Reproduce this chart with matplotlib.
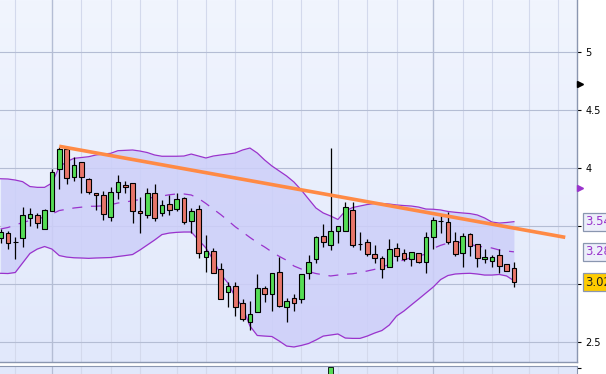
import numpy as np
import matplotlib.pyplot as plt

# daily candles
opens = [3.399, 3.440, 3.365, 3.397, 3.569, 3.600, 3.479, 3.635, 3.991, 4.164,
         3.922, 4.052, 3.905, 3.784, 3.767, 3.578, 3.798, 3.853, 3.871, 3.632,
         3.595, 3.784, 3.612, 3.690, 3.647, 3.741, 3.543, 3.647, 3.238, 3.287,
         3.135, 2.931, 2.985, 2.836, 2.678, 2.759, 2.966, 2.914, 3.103, 2.807,
         2.879, 2.871, 3.095, 3.218, 3.416, 3.336, 3.457, 3.457, 3.643, 3.345,
         3.362, 3.264, 3.224, 3.147, 3.310, 3.267, 3.216, 3.267, 3.190, 3.405,
         3.548, 3.534, 3.374, 3.267, 3.434, 3.345, 3.216, 3.198, 3.250, 3.179,
         3.138]
highs = [3.477, 3.459, 3.405, 3.664, 3.655, 3.612, 3.652, 3.991, 4.186, 4.181,
         4.095, 4.054, 3.914, 3.787, 3.802, 3.841, 3.942, 3.891, 3.873, 3.750,
         3.828, 3.865, 3.727, 3.767, 3.790, 3.750, 3.655, 3.684, 3.425, 3.310,
         3.181, 3.022, 3.022, 2.871, 2.859, 3.089, 2.985, 3.097, 3.233, 2.879,
         2.916, 3.089, 3.253, 3.416, 3.520, 4.172, 3.500, 3.710, 3.710, 3.448,
         3.388, 3.339, 3.244, 3.391, 3.353, 3.302, 3.276, 3.272, 3.448, 3.578,
         3.595, 3.626, 3.453, 3.440, 3.445, 3.345, 3.302, 3.253, 3.302, 3.179,
         3.195]
lows = [3.356, 3.302, 3.216, 3.319, 3.503, 3.483, 3.479, 3.632, 3.824, 3.865,
        3.893, 3.784, 3.776, 3.640, 3.552, 3.546, 3.735, 3.784, 3.531, 3.445,
        3.569, 3.548, 3.589, 3.600, 3.632, 3.517, 3.445, 3.224, 3.109, 3.095,
        2.871, 2.807, 2.727, 2.686, 2.606, 2.759, 2.850, 2.772, 2.802, 2.678,
        2.772, 2.842, 3.043, 3.187, 3.324, 3.296, 3.353, 3.457, 3.324, 3.296,
        3.247, 3.187, 3.052, 3.147, 3.204, 3.204, 3.155, 3.181, 3.095, 3.304,
        3.440, 3.347, 3.247, 3.147, 3.247, 3.147, 3.187, 3.152, 3.095, 3.115,
        2.979]
closes = [3.451, 3.353, 3.365, 3.595, 3.603, 3.526, 3.638, 3.966, 4.166, 3.914,
          4.026, 3.922, 3.793, 3.767, 3.603, 3.793, 3.885, 3.836, 3.629, 3.612,
          3.784, 3.569, 3.681, 3.638, 3.733, 3.537, 3.629, 3.272, 3.287, 3.100,
          2.871, 2.985, 2.807, 2.698, 2.744, 2.966, 2.914, 3.095, 2.816, 2.859,
          2.842, 3.089, 3.195, 3.410, 3.365, 3.457, 3.500, 3.664, 3.336, 3.345,
          3.264, 3.224, 3.135, 3.302, 3.247, 3.221, 3.276, 3.195, 3.405, 3.552,
          3.548, 3.362, 3.259, 3.414, 3.330, 3.224, 3.238, 3.238, 3.158, 3.115,
          3.020]

# bollinger bands
bb_upper = [3.910, 3.908, 3.899, 3.885, 3.843, 3.836, 3.836, 3.873, 4.011, 4.057,
            4.086, 4.093, 4.100, 4.115, 4.123, 4.129, 4.152, 4.155, 4.158, 4.149,
            4.136, 4.115, 4.104, 4.104, 4.104, 4.106, 4.123, 4.106, 4.089, 4.106,
            4.115, 4.123, 4.132, 4.158, 4.175, 4.132, 4.072, 4.020, 3.977, 3.934,
            3.882, 3.813, 3.735, 3.658, 3.615, 3.589, 3.559, 3.632, 3.662, 3.675,
            3.688, 3.697, 3.697, 3.692, 3.684, 3.679, 3.675, 3.666, 3.649, 3.647,
            3.641, 3.628, 3.621, 3.615, 3.610, 3.598, 3.572, 3.537, 3.528, 3.533,
            3.540]
bb_mid = [3.477, 3.490, 3.511, 3.533, 3.550, 3.566, 3.578, 3.606, 3.636, 3.647,
          3.658, 3.665, 3.673, 3.673, 3.677, 3.686, 3.701, 3.710, 3.720, 3.731,
          3.741, 3.751, 3.761, 3.772, 3.779, 3.779, 3.770, 3.740, 3.697, 3.649,
          3.602, 3.550, 3.496, 3.451, 3.404, 3.360, 3.322, 3.279, 3.241, 3.207,
          3.158, 3.132, 3.110, 3.093, 3.082, 3.072, 3.080, 3.087, 3.091, 3.102,
          3.115, 3.129, 3.149, 3.171, 3.192, 3.210, 3.231, 3.244, 3.261, 3.310,
          3.336, 3.356, 3.362, 3.362, 3.348, 3.326, 3.324, 3.313, 3.296, 3.287,
          3.280]
bb_lower = [3.095, 3.093, 3.102, 3.184, 3.266, 3.304, 3.326, 3.304, 3.248, 3.235,
            3.229, 3.227, 3.224, 3.227, 3.229, 3.231, 3.240, 3.248, 3.257, 3.296,
            3.339, 3.382, 3.429, 3.442, 3.448, 3.451, 3.451, 3.382, 3.313, 3.210,
            3.089, 3.011, 2.891, 2.804, 2.641, 2.559, 2.554, 2.550, 2.511, 2.468,
            2.460, 2.473, 2.490, 2.520, 2.554, 2.563, 2.572, 2.537, 2.534, 2.534,
            2.554, 2.580, 2.602, 2.649, 2.727, 2.770, 2.822, 2.873, 2.925, 2.977,
            3.041, 3.076, 3.089, 3.093, 3.095, 3.089, 3.080, 3.080, 3.085, 3.072,
            3.031]

# hand drawn trendline
trend_x = [8, 77]
trend_y = [4.19, 3.405]

week_lines = [2, 7, 11, 15, 19, 24, 28, 32, 37, 41, 46, 50, 54, 59, 63, 67, 72, 76]
month_lines = [7, 59]
price_ticks = [2.5, 3, 3.5, 4, 4.5, 5]
tick_labels = ['2.5', '', '3.5', '4', '4.5', '5']  # "3" sits under the close box

last_upper = 3.54
last_mid = 3.28
last_close = 3.02

x = np.arange(len(opens))
xmin, xmax = -0.08, 78.6
ymin, ymax = 2.333, 5.451

purple = '#9a33cc'
green = '#55dd55'
red = '#e8766a'

fig = plt.figure(figsize=(6.06, 3.74), dpi=100)
fig.patch.set_facecolor('white')
ax = fig.add_axes([0, 12.3 / 374, 577 / 606, 361.7 / 374])

# background gradient
grad = np.linspace(0, 1, 256).reshape(-1, 1)
top_c = np.array([241, 245, 254]) / 255
bot_c = np.array([225, 232, 251]) / 255
img = top_c + (bot_c - top_c) * grad[..., None]
ax.imshow(img, extent=[xmin, xmax, ymin, ymax], aspect='auto', zorder=0,
          interpolation='bilinear')

for w in week_lines:
    if w in month_lines:
        ax.axvline(w, color='#b4bdd4', lw=1.0, zorder=1)
    else:
        ax.axvline(w, color='#d3d9ec', lw=0.8, zorder=1)
for p in price_ticks:
    ax.axhline(p, color='#b4bdd4', lw=0.8, zorder=1)

# band
ax.fill_between(x, bb_lower, bb_upper, color='#cdcff9', alpha=0.85, lw=0, zorder=2)
ax.plot(x, bb_upper, color=purple, lw=0.9, zorder=3)
ax.plot(x, bb_lower, color=purple, lw=0.9, zorder=3)
ax.plot(x, bb_mid, color=purple, lw=0.9, dashes=(8, 7), zorder=3)

# candles
ax.vlines(x, lows, highs, color='black', lw=0.9, zorder=4)
o = np.array(opens)
c = np.array(closes)
cols = [green if cc > oo else (red if cc < oo else 'black') for oo, cc in zip(o, c)]
ax.bar(x, c - o, bottom=o, width=0.62, color=cols, edgecolor='black',
       linewidth=0.8, zorder=5)

ax.plot(trend_x, trend_y, color='#ff8a45', lw=2.6, solid_capstyle='butt', zorder=6)

ax.set_xlim(xmin, xmax)
ax.set_ylim(ymin, ymax)
ax.set_xticks([])
ax.yaxis.tick_right()
ax.set_yticks(price_ticks)
ax.set_yticklabels(tick_labels)
ax.tick_params(axis='y', direction='out', length=3, width=0.8, colors='black',
               labelsize=7, pad=3)
for s in ['left', 'top']:
    ax.spines[s].set_visible(False)
for s in ['right', 'bottom']:
    ax.spines[s].set_color('#8a96b0')
    ax.spines[s].set_linewidth(1.0)

# markers on the price axis
ax.plot([xmax + 0.35], [4.727], marker='>', color='black', ms=5, clip_on=False, zorder=8)
ax.plot([xmax + 0.35], [3.83], marker='>', color=purple, ms=5, clip_on=False, zorder=8)

# last value boxes
trans = ax.get_yaxis_transform()
for val, fc, tc in [(last_upper, '#eceefa', purple), (last_mid, '#eceefa', purple),
                    (last_close, '#ffcc00', '#222222')]:
    ax.text(1.0145, val, '%.2f' % val, transform=trans, fontsize=8.4, color=tc,
            va='center', ha='left', clip_on=False, zorder=10,
            bbox=dict(boxstyle='square,pad=0.2', fc=fc, ec='#8a96b0', lw=0.9))

# lower panel (only its top edge is visible)
ax2 = fig.add_axes([0, -0.05, 577 / 606, 0.05 + 8.3 / 374])
img2 = np.ones((2, 1, 3)) * bot_c
ax2.imshow(img2, extent=[xmin, xmax, 0, 1], aspect='auto', zorder=0)
for w in week_lines:
    ax2.axvline(w, color='#b4bdd4' if w in month_lines else '#d3d9ec', lw=0.9, zorder=1)
ax2.bar([45], [0.4], bottom=0.55, width=0.62, color=green, edgecolor='black',
        linewidth=0.6, zorder=3)
ax2.set_xlim(xmin, xmax)
ax2.set_ylim(0, 1)
ax2.set_xticks([])
ax2.yaxis.tick_right()
ax2.set_yticks([0.9])
ax2.set_yticklabels([''])
ax2.tick_params(axis='y', direction='out', length=3, width=0.8)
for s in ['left', 'bottom']:
    ax2.spines[s].set_visible(False)
for s in ['right', 'top']:
    ax2.spines[s].set_color('#8a96b0')

fig.savefig('out.png', dpi=100)
